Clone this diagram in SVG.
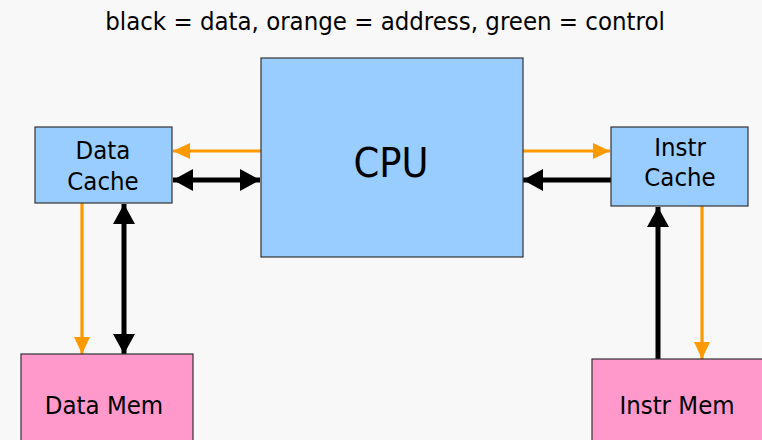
<svg xmlns="http://www.w3.org/2000/svg" width="762" height="440" viewBox="0 0 762 440">
  <style>
    text { font-family: "DejaVu Sans Condensed", "DejaVu Sans", sans-serif; font-stretch: condensed; fill: #000; text-anchor: middle; }
    .label { font-size: 25.5px; }
    .box { stroke: #333; stroke-width: 1.2; }
    .cache, .cpu { fill: #99ccff; }
    .mem { fill: #ff99cc; }
    .addr { stroke: #ff9900; stroke-width: 3.2; fill: none; }
    .data { stroke: #000; stroke-width: 5; fill: none; }
  </style>
  <defs>
    <marker id="headOrange" markerUnits="userSpaceOnUse" markerWidth="18" markerHeight="16" refX="17" refY="8" orient="auto">
      <path d="M0,0 L17,8 L0,16 Z" fill="#ff9900"/>
    </marker>
    <marker id="headBlack" markerUnits="userSpaceOnUse" markerWidth="21" markerHeight="22" refX="20" refY="11" orient="auto">
      <path d="M0,0 L20,11 L0,22 Z" fill="#000"/>
    </marker>
    <marker id="headBlackStart" markerUnits="userSpaceOnUse" markerWidth="21" markerHeight="22" refX="0" refY="11" orient="auto">
      <path d="M20,0 L0,11 L20,22 Z" fill="#000"/>
    </marker>
  </defs>

  <rect width="762" height="440" fill="#f8f8f8"/>

  <text x="385" y="30" font-size="25.5">black = data, orange = address, green = control</text>

  <g id="connectors">
    <!-- CPU to data cache: address and bidirectional data -->
    <line class="addr" x1="261" y1="151" x2="173" y2="151" marker-end="url(#headOrange)"/>
    <line class="data" x1="173" y1="180" x2="260" y2="180" marker-start="url(#headBlackStart)" marker-end="url(#headBlack)"/>
    <!-- CPU to instruction cache -->
    <line class="addr" x1="523" y1="151" x2="610" y2="151" marker-end="url(#headOrange)"/>
    <line class="data" x1="611" y1="180" x2="523" y2="180" marker-end="url(#headBlack)"/>
    <!-- data cache to data memory -->
    <line class="addr" x1="82" y1="203" x2="82" y2="354" marker-end="url(#headOrange)"/>
    <line class="data" x1="124" y1="204" x2="124" y2="354" marker-start="url(#headBlackStart)" marker-end="url(#headBlack)"/>
    <!-- instruction memory to instruction cache -->
    <line class="data" x1="658" y1="359" x2="658" y2="207" marker-end="url(#headBlack)"/>
    <line class="addr" x1="702" y1="206" x2="702" y2="359" marker-end="url(#headOrange)"/>
  </g>

  <g id="cpu">
    <rect class="box cpu" x="261" y="58" width="262" height="199"/>
    <text x="391" y="177" font-size="41">CPU</text>
  </g>

  <g id="data-cache">
    <rect class="box cache" x="35" y="127" width="137" height="76"/>
    <text class="label" x="103" y="159">Data</text>
    <text class="label" x="103" y="190">Cache</text>
  </g>

  <g id="instr-cache">
    <rect class="box cache" x="611" y="127" width="137" height="79"/>
    <text class="label" x="680" y="156">Instr</text>
    <text class="label" x="680" y="186">Cache</text>
  </g>

  <g id="data-mem">
    <rect class="box mem" x="21" y="354" width="172" height="100"/>
    <text class="label" x="104" y="414">Data Mem</text>
  </g>

  <g id="instr-mem">
    <rect class="box mem" x="592" y="359" width="180" height="100"/>
    <text class="label" x="677" y="414">Instr Mem</text>
  </g>
</svg>
